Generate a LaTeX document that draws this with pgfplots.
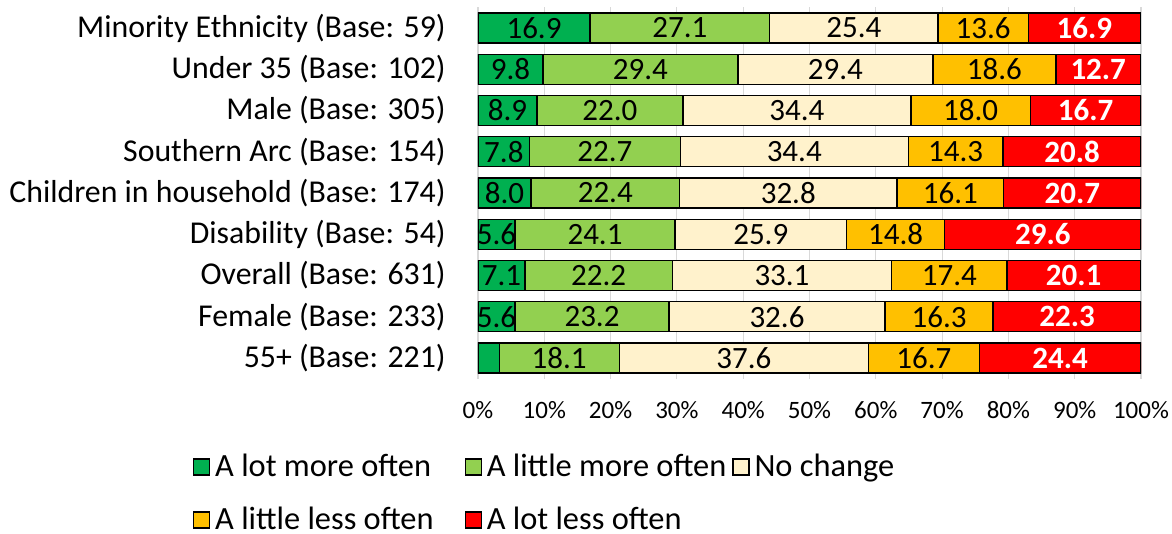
\documentclass[border=0pt]{standalone}
\usepackage{pgfplots}
\pgfplotsset{compat=1.18}
\usepackage{pgfplotstable}
\usepackage{fontspec}
\setmainfont{Carlito}

\definecolor{lotmore}{HTML}{00B050}
\definecolor{littlemore}{HTML}{92D050}
\definecolor{nochange}{HTML}{FFF2CC}
\definecolor{littleless}{HTML}{FFC000}
\definecolor{lotless}{HTML}{FF0000}
\definecolor{gridgrey}{HTML}{D9D9D9}

% share of respondents, per group (rows top to bottom)
\pgfplotstableread{
idx lotmore littlemore nochange littleless lotless
0 16.9 27.1 25.4 13.6 16.9
1 9.8 29.4 29.4 18.6 12.7
2 8.9 22.0 34.4 18.0 16.7
3 7.8 22.7 34.4 14.3 20.8
4 8.0 22.4 32.8 16.1 20.7
5 5.6 24.1 25.9 14.8 29.6
6 7.1 22.2 33.1 17.4 20.1
7 5.6 23.2 32.6 16.3 22.3
8 3.2 18.1 37.6 16.7 24.4
}\responses

\begin{document}
\begin{tikzpicture}
\begin{axis}[
  scale only axis,
  width=331.5pt, height=185.6pt,
  xbar stacked, bar width=15pt,
  xmin=0, xmax=100,
  ymin=-0.5, ymax=8.5,
  y dir=reverse,
  ytick={0,...,8},
  yticklabels={Minority Ethnicity (Base: 59),Under 35 (Base: 102),Male (Base: 305),Southern Arc (Base: 154),Children in household (Base: 174),Disability (Base: 54),Overall (Base: 631),Female (Base: 233),55+ (Base: 221)},
  xtick={0,10,...,100},
  xticklabels={0\%,10\%,20\%,30\%,40\%,50\%,60\%,70\%,80\%,90\%,100\%},
  axis line style={draw=none},
  major tick length=0pt,
  xmajorgrids, grid style={gridgrey, line width=0.6pt},
  y tick label style={font=\fontsize{15.9}{18}\selectfont, inner sep=0pt, xshift=-16pt},
  x tick label style={font=\fontsize{12.5}{15}\selectfont, inner sep=0pt, yshift=-11pt},
  point meta=explicit symbolic,
  nodes near coords={\ifdim\pgfplotspointmeta pt<4pt\else\pgfplotspointmeta\fi},
  every node near coord/.append style={anchor=center,
    font=\fontsize{15.5}{18}\selectfont, inner sep=0pt, text=black},
  legend columns=3,
  legend cell align=left,
  legend style={at={(axis description cs:0,0)}, anchor=north west,
    xshift=-142.5pt, yshift=-38.2pt, draw=none, inner sep=0pt, outer sep=0pt,
    font=\fontsize{16.2}{19}\selectfont,
    nodes={inner sep=0pt, text height=11pt, text depth=1pt},
    row sep=14.5pt,
    /tikz/every odd column/.style={column sep=2.5pt},
    /tikz/column 2/.style={column sep=15.5pt},
    /tikz/column 4/.style={column sep=3pt}},
  legend image code/.code={\draw[#1,draw=black,line width=0.6pt] (0pt,-4pt) rectangle (8pt,4pt);},
]
\addplot[fill=lotmore, draw=black, line width=0.7pt]
  table[x=lotmore, y=idx, meta=lotmore] {\responses};
\addplot[fill=littlemore, draw=black, line width=0.7pt]
  table[x=littlemore, y=idx, meta=littlemore] {\responses};
\addplot[fill=nochange, draw=black, line width=0.7pt]
  table[x=nochange, y=idx, meta=nochange] {\responses};
\addplot[fill=littleless, draw=black, line width=0.7pt]
  table[x=littleless, y=idx, meta=littleless] {\responses};
\addplot[fill=lotless, draw=black, line width=0.7pt,
  nodes near coords style={text=white, font=\fontsize{15.5}{18}\selectfont\bfseries}]
  table[x=lotless, y=idx, meta=lotless] {\responses};
\legend{A lot more often,A little more often,No change,A little less often,A lot less often}
\coordinate (TL) at (axis description cs:0,1);
\end{axis}
\pgfresetboundingbox
\path ([xshift=-239pt,yshift=3.7pt]TL) rectangle ([xshift=347pt,yshift=-263.3pt]TL);
\end{tikzpicture}
\end{document}
